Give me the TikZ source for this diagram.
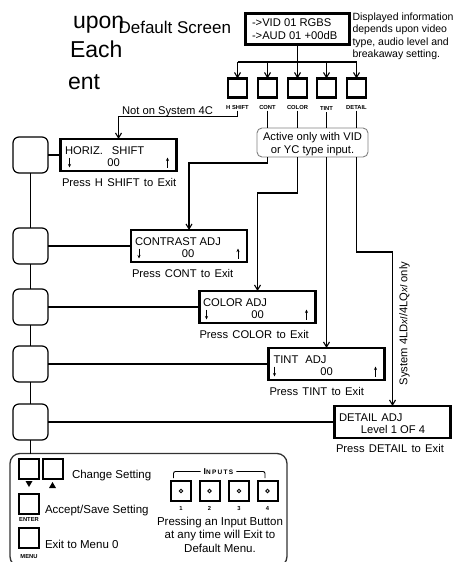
\documentclass[tikz,border=0pt]{standalone}
\usepackage{fontspec}
\setmainfont{Liberation Sans}
\usetikzlibrary{arrows.meta,calc}
\begin{document}
\begin{tikzpicture}[x=1pt,y=-1pt,
  every node/.style={inner sep=0pt,outer sep=0pt},
  base/.style={font=\fontsize{11.2}{13}\selectfont},
  lcdt/.style={font=\fontsize{11.2}{13}\selectfont},
  press/.style={font={\fontsize{11.2}{13}\selectfont\spaceskip=4.3pt plus 1pt\relax},anchor=base west},
  ptxt/.style={font=\fontsize{11.5}{13.5}\selectfont},
  lcd/.style={draw,line width=2.2pt,minimum width=116pt,minimum height=32pt},
  topbtn/.style={draw,line width=2.5pt,minimum size=19pt},
  btnlbl/.style={font=\bfseries\fontsize{5.8}{6}\selectfont,inner sep=1.5pt},
  menubox/.style={draw,line width=1.2pt,rounded corners=6pt,minimum width=35pt,minimum height=36pt},
  pbtn/.style={draw,line width=2pt,minimum size=20pt},
  conn/.style={line width=1.1pt},
  brk/.style={line width=0.9pt,rounded corners=2pt},
  arr/.style={line width=1.1pt,-{Straight Barb[length=5pt,width=6pt,line width=1.1pt]}},
  lcdarr/.style={line width=0.7pt,-{Stealth[length=3.5pt,width=3pt]}},
]
\useasboundingbox (0,0) rectangle (464,562);

% stray text fragments
\node[font=\fontsize{23}{32}\selectfont,anchor=base west] (t1) at (73,28) {upon};
\node[font=\fontsize{23}{32}\selectfont,anchor=base west] (t2) at (70,57) {Each};
\node[font=\fontsize{23}{32}\selectfont,anchor=base west] (t3) at (68,89) {ent};

% default screen
\node[font=\fontsize{17}{19}\selectfont,anchor=base east] (dslab) at (231,33) {Default Screen};
\node[draw,line width=2.2pt,minimum width=104pt,minimum height=31pt] (def) at (297.5,29) {};
\node[lcdt,anchor=base west] (d1) at (252,26) {->VID 01 RGBS};
\node[lcdt,anchor=base west] (d2) at (252,39) {->AUD 01 +00dB};
\node[font=\fontsize{10.5}{12.2}\selectfont,align=left,anchor=north west] (info) at (352.5,13)
  {Displayed information\\depends upon video\\type, audio level and\\breakaway setting.};

% top buttons
\node[topbtn] (bh) at (237.5,88) {};
\node[topbtn] (bc) at (267.5,88) {};
\node[topbtn] (bo) at (297.5,88) {};
\node[topbtn] (bt) at (326.5,88) {};
\node[topbtn] (bd) at (356.5,88) {};
\node[btnlbl,anchor=base] (lh) at (237.5,109) {H SHIFT};
\node[btnlbl,anchor=base] (lc) at (267.5,109) {CONT};
\node[btnlbl,anchor=base] (lo) at (297.5,109) {COLOR};
\node[btnlbl,anchor=base] (lt) at (326.5,110.5) {TINT};
\node[btnlbl,anchor=base] (ld) at (356.5,109) {DETAIL};

\coordinate (bus) at (297.5,62);
\draw[conn] (def.south) -- (bus);
\draw[conn] (bh.north |- bus) -- (bd.north |- bus);
\foreach \b in {bh,bc,bo,bt,bd} \draw[arr] (\b.north |- bus) -- (\b.north);

% active box
\node[draw=gray,line width=0.9pt,rounded corners=5pt,minimum width=111pt,minimum height=29pt] (act) at (312.5,142.5) {};
\node[base,align=center,anchor=north] (acttxt) at (312.5,132.5) {Active only with VID\\or YC type input.};
\foreach \l in {lc,lo,lt,ld} \draw[conn] (\l.south) -- (\l.south |- act.north);

% left column
\node[menubox] (m1) at (30.5,155) {};
\node[menubox] (m2) at (30.5,246) {};
\node[menubox] (m3) at (30.5,307) {};
\node[menubox] (m4) at (30.5,364) {};
\node[menubox] (m5) at (30.5,422) {};

% lcd boxes
\node[lcd] (hz) at (118.5,155) {};
\node[lcd] (ct) at (189,246) {};
\node[lcd] (co) at (257.5,307) {};
\node[lcd] (ti) at (326.5,364) {};
\node[lcd] (de) at (392.5,422) {};

% up/down arrows inside the lcd boxes
\foreach \bx/\dx in {hz/9,ct/8,co/7,ti/6}{
  \draw[lcdarr] ($(\bx.north west)+(\dx,18.5)$) -- ($(\bx.north west)+(\dx,28.5)$);
  \draw[lcdarr] ($(\bx.north east)+(-9,28.5)$) -- ($(\bx.north east)+(-9,18.5)$);
}

% HORIZ
\node[lcdt,anchor=base west] (hz1) at ($(hz.north west)+(4.5,15.5)$) {HORIZ.\hspace{9pt}SHIFT};
\node[lcdt,anchor=base] (hz3) at ($(hz.north)+(-5,27)$) {00};
\node[press] (hzp) at ($(hz.south west)+(1.5,15)$) {Press H SHIFT to Exit};
% CONTRAST
\node[lcdt,anchor=base west] (ct1) at ($(ct.north west)+(4,15.5)$) {CONTRAST ADJ};
\node[lcdt,anchor=base] (ct3) at ($(ct.north)+(-1,27)$) {00};
\node[press] (ctp) at ($(ct.south west)+(1,15)$) {Press CONT to Exit};
% COLOR
\node[lcdt,anchor=base west] (co1) at ($(co.north west)+(3.5,15.5)$) {COLOR ADJ};
\node[lcdt,anchor=base] (co3) at ($(co.north)+(0,27)$) {00};
\node[press] (cop) at ($(co.south west)+(0,15)$) {Press COLOR to Exit};
% TINT
\node[lcdt,anchor=base west] (ti1) at ($(ti.north west)+(5,15.5)$) {TINT\hspace{7pt}ADJ};
\node[lcdt,anchor=base] (ti3) at ($(ti.north)+(0,27)$) {00};
\node[press] (tip) at ($(ti.south west)+(1,15)$) {Press TINT to Exit};
% DETAIL
\node[lcdt,anchor=base west] (de1) at ($(de.north west)+(4.5,15)$) {DETAIL\hspace{4pt}ADJ};
\node[lcdt,anchor=base] (de2) at ($(de.north)+(0.5,27)$) {Level 1 OF 4};
\node[press] (dep) at ($(de.south west)+(1.5,14.5)$) {Press DETAIL to Exit};

% left column connections
\draw[conn] (m1.east) -- (hz.west);
\draw[conn] (m2.east) -- (ct.west);
\draw[conn] (m3.east) -- (co.west);
\draw[conn] (m4.east) -- (ti.west);
\draw[conn] (m5.east) -- (de.west);
\draw[conn] (m1.south) -- (m2.north);
\draw[conn] (m2.south) -- (m3.north);
\draw[conn] (m3.south) -- (m4.north);
\draw[conn] (m4.south) -- (m5.north);

% routes
\draw[arr] (lh.south) -- ++(0,6) -| (hz.north);
\node[base,anchor=base] (not4c) at (167.5,114) {Not on System 4C};
\draw[arr] (act.south -| bc) -- ++(0,6) -| (ct.north);
\draw[arr] (act.south -| bo) -- ++(0,36) -| (co.north);
\draw[arr] (act.south -| bt) -- (ti.north);
\draw[arr] (act.south -| bd) -- ++(0,95) -| (de.north);
\node[base,rotate=90] (sys) at (404.5,323.5) {System 4LD{\itshape\fontsize{10}{12}\selectfont xl}/4LQ{\itshape\fontsize{10}{12}\selectfont xl} only};

% bottom panel
\node[draw=black!80,line width=1.3pt,rounded corners=10pt,minimum width=277pt,minimum height=113pt,anchor=north west] (panel) at (10,453.5) {};
\draw[conn] (m5.south) -- (m5.south |- panel.north);

\node[pbtn] (pdn) at (29,469) {};
\node[pbtn] (pup) at (52.5,469) {};
\fill (pdn.south) ++(-3.5,2) -- ++(7,0) -- ++(-3.5,6) -- cycle;
\fill (pup.south) ++(-3.5,9) -- ++(7,0) -- ++(-3.5,-6) -- cycle;
\node[ptxt,anchor=base west] (chg) at (72,478) {Change Setting};
\node[pbtn] (pent) at (29,504) {};
\node[btnlbl,anchor=base] (lent) at (29,521.5) {ENTER};
\node[ptxt,anchor=base west] (acc) at (45,513.5) {Accept/Save Setting};
\node[pbtn] (pmen) at (29,537.5) {};
\node[btnlbl,anchor=base] (lmen) at (29,558) {MENU};
\node[ptxt,anchor=base west] (ext) at (45,548.5) {Exit to Menu 0};

% inputs
\node[pbtn] (i1) at (181,491) {};
\node[pbtn] (i2) at (209.5,491) {};
\node[pbtn] (i3) at (239,491) {};
\node[pbtn] (i4) at (267.5,491) {};
\foreach \i in {i1,i2,i3,i4} \draw[line width=0.9pt] (\i) circle[radius=1.8pt];
\node[btnlbl,anchor=base] (n1) at (181,510.5) {1};
\node[btnlbl,anchor=base] (n2) at (209.5,510.5) {2};
\node[btnlbl,anchor=base] (n3) at (239,510.5) {3};
\node[btnlbl,anchor=base] (n4) at (267.5,510.5) {4};
\node[font=\bfseries] (inlbl) at (218.5,471.5) {{\fontsize{8.5}{9}\selectfont I}{\fontsize{6.5}{7}\selectfont\addfontfeature{LetterSpace=20}NPUTS}};
\coordinate (bl) at (173.5,478);
\coordinate (br) at (265,478);
\draw[brk] ([xshift=-3pt]inlbl.west) -| (bl);
\draw[brk] ([xshift=3pt]inlbl.east) -| (br);
\node[ptxt,align=center,anchor=north] (presstxt) at (220,516.8) {Pressing an Input Button\\at any time will Exit to\\Default Menu.};
\end{tikzpicture}
\end{document}
